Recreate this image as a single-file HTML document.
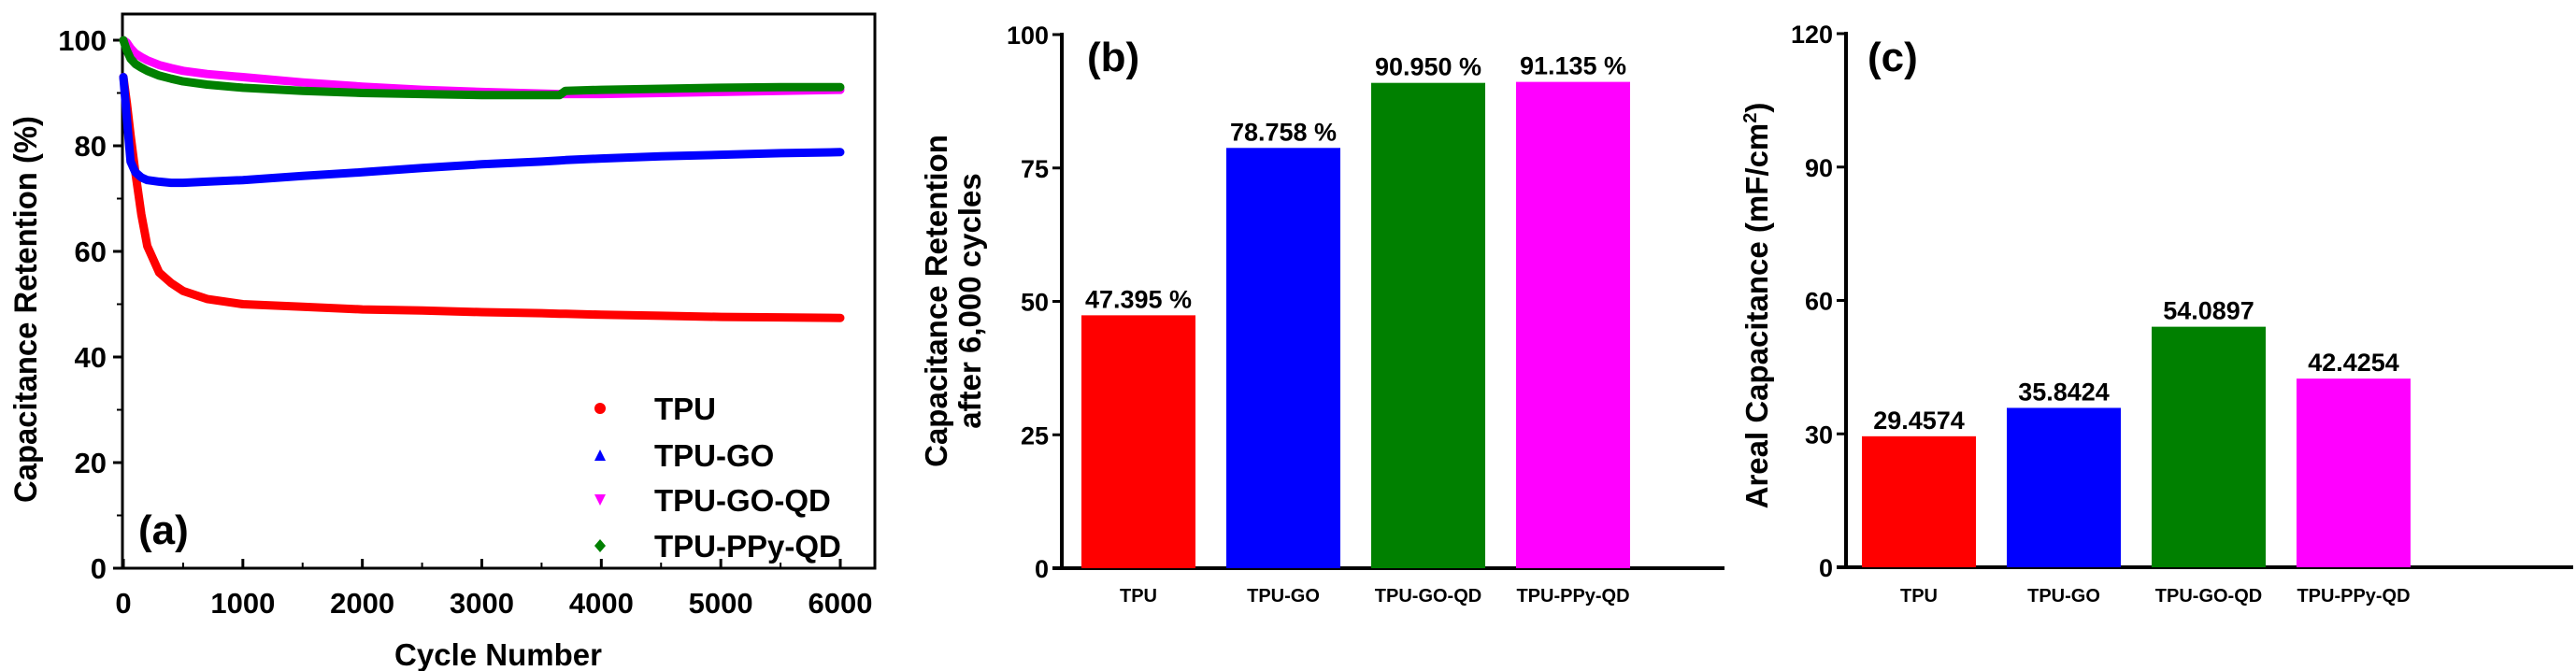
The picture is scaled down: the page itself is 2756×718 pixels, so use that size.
<!DOCTYPE html>
<html><head><meta charset="utf-8">
<style>
html,body{margin:0;padding:0;background:#fff;}
svg{display:block;font-family:"Liberation Sans",Arial,sans-serif;font-weight:bold;}
</style></head>
<body>
<svg id="fig" width="2756" height="718" viewBox="0 0 2756 718" xmlns="http://www.w3.org/2000/svg">
<rect width="2756" height="718" fill="#fff"/>
<g id="pa"></g>
<g id="pb"></g>
<g id="pc"></g>
</svg>
<script>
// ---------- Panel (a) data ----------
const aCycles = [0, 30, 60, 100, 150, 200, 300, 400, 500, 700, 1000, 1500, 2000, 2500, 3000, 3500, 3650, 3700, 4000, 4500, 5000, 5500, 6000];
const aTPU    = [93, 88, 82, 75, 67, 61, 56, 54, 52.5, 51, 50, 49.5, 49, 48.8, 48.5, 48.3, 48.2, 48.2, 48, 47.8, 47.6, 47.5, 47.4];
const aTPUGO  = [93, 85, 77, 75, 74, 73.5, 73.2, 73, 73, 73.2, 73.5, 74.3, 75, 75.8, 76.5, 77, 77.2, 77.3, 77.6, 78, 78.3, 78.6, 78.8];
const aTPUGOQD= [100, 99.5, 98.5, 97.5, 96.8, 96.2, 95.3, 94.7, 94.2, 93.6, 93, 92, 91.2, 90.6, 90.2, 89.9, 89.8, 89.8, 89.8, 90, 90.2, 90.4, 90.6];
const aTPUPPyQD=[100, 98, 96.5, 95.5, 94.8, 94.2, 93.3, 92.7, 92.2, 91.6, 91, 90.4, 90, 89.8, 89.6, 89.6, 89.6, 90.4, 90.6, 90.8, 91, 91.1, 91.1];
const aSeriesNames = ["TPU", "TPU-GO", "TPU-GO-QD", "TPU-PPy-QD"];
const aXTicks = [0, 1000, 2000, 3000, 4000, 5000, 6000];
const aYTicks = [0, 20, 40, 60, 80, 100];
// ---------- Panel (b) data ----------
const bCategories = ["TPU", "TPU-GO", "TPU-GO-QD", "TPU-PPy-QD"];
const bValues = [47.395, 78.758, 90.950, 91.135];
const bLabels = ["47.395 %", "78.758 %", "90.950 %", "91.135 %"];
const bYTicks = [0, 25, 50, 75, 100];
// ---------- Panel (c) data ----------
const cCategories = ["TPU", "TPU-GO", "TPU-GO-QD", "TPU-PPy-QD"];
const cValues = [29.4574, 35.8424, 54.0897, 42.4254];
const cLabels = ["29.4574", "35.8424", "54.0897", "42.4254"];
const cYTicks = [0, 30, 60, 90, 120];

const NS = "http://www.w3.org/2000/svg";
function mk(parent, tag, attrs, text) {
  const e = document.createElementNS(NS, tag);
  for (const k in attrs) e.setAttribute(k, attrs[k]);
  if (text !== undefined) e.textContent = text;
  parent.appendChild(e);
  return e;
}
const colors = ["#ff0000", "#0000ff", "#ff00ff", "#008000"];
const barColors = ["#ff0000", "#0000ff", "#008000", "#ff00ff"];

// ===== Panel (a) =====
(function () {
  const g = document.getElementById("pa");
  const X0 = 132, X1 = 899, Y0 = 608, Y100 = 43;
  const xs = v => X0 + (v / 6000) * (X1 - X0);
  const ys = v => Y0 - (v / 100) * (Y0 - Y100);
  const frame = mk(g, "rect", {x: 131, y: 15, width: 805, height: 593, fill: "none", stroke: "#000", "stroke-width": 3});
  
  
  // y ticks
  aYTicks.forEach(t => {
    const y = ys(t);
    const tk = mk(g, "line", {x1: 121, x2: 131, y1: y, y2: y, stroke: "#000", "stroke-width": 3});
    
    
    const lb = mk(g, "text", {x: 114, y: y + 11, "text-anchor": "end", "font-size": 31}, t);
    
    
  });
  for (let t = 10; t < 100; t += 20) {
    const m = mk(g, "line", {x1: 125, x2: 131, y1: ys(t), y2: ys(t), stroke: "#000", "stroke-width": 2});
    
    
  }
  aXTicks.forEach(t => {
    const x = xs(t);
    const tk = mk(g, "line", {x1: x, x2: x, y1: 608, y2: 598, stroke: "#000", "stroke-width": 3});
    
    
    const lb = mk(g, "text", {x: x, y: 656, "text-anchor": "middle", "font-size": 31}, t);
    
    
  });
  for (let t = 500; t < 6500; t += 1000) {
    const m = mk(g, "line", {x1: xs(t), x2: xs(t), y1: 608, y2: 602, stroke: "#000", "stroke-width": 2});
    
    
  }
  const xt = mk(g, "text", {x: 533, y: 712, "text-anchor": "middle", "font-size": 33}, "Cycle Number");
  
  
  const yt = mk(g, "text", {x: 0, y: 0, transform: "translate(39,331) rotate(-90)", "text-anchor": "middle", "font-size": 34, textLength: 414, lengthAdjust: "spacingAndGlyphs"}, "Capacitance Retention (%)");
  
  
  // series
  const seriesVals = [aTPU, aTPUGO, aTPUGOQD, aTPUPPyQD];
  const order = [0, 1, 2, 3];
  order.forEach(i => {
    const pts = aCycles.map((c, k) => xs(c).toFixed(1) + "," + ys(seriesVals[i][k]).toFixed(1)).join(" ");
    const pl = mk(g, "polyline", {points: pts, fill: "none", stroke: colors[i], "stroke-width": 9, "stroke-linejoin": "round", "stroke-linecap": "round"});
    
    
  });
  // legend
  const legY = [437, 487, 535, 584];
  aSeriesNames.forEach((n, i) => {
    const y = legY[i];
    let m;
    if (i === 0) m = mk(g, "circle", {cx: 642, cy: y, r: 6, fill: colors[i]});
    else if (i === 1) m = mk(g, "polygon", {points: `636,${y+6} 648,${y+6} 642,${y-6}`, fill: colors[i]});
    else if (i === 2) m = mk(g, "polygon", {points: `636,${y-6} 648,${y-6} 642,${y+6}`, fill: colors[i]});
    else m = mk(g, "polygon", {points: `642,${y-7} 648,${y} 642,${y+7} 636,${y}`, fill: colors[i]});
    
    
    const t = mk(g, "text", {x: 700, y: y + 12, "font-size": 33}, n);
    
    
  });
  const pl = mk(g, "text", {x: 148, y: 582, "font-size": 44}, "(a)");
  
  
})();

// ===== Bar panels =====
function barPanel(gid, o) {
  const g = document.getElementById(gid);
  const ys = v => o.Y0 - (v / o.max) * (o.Y0 - o.Ytop);
  const ax = mk(g, "line", {x1: o.AX, x2: o.AX, y1: o.Ytop - 2, y2: o.Y0, stroke: "#000", "stroke-width": 4});
  
  
  const bx = mk(g, "line", {x1: o.AX - 10, x2: o.XEnd, y1: o.Y0, y2: o.Y0, stroke: "#000", "stroke-width": 4});
  
  
  o.ticks.forEach(t => {
    const y = ys(t);
    const tk = mk(g, "line", {x1: o.AX - 10, x2: o.AX, y1: y, y2: y, stroke: "#000", "stroke-width": 3});
    
    
    const lb = mk(g, "text", {x: o.AX - 14, y: y + 10, "text-anchor": "end", "font-size": 27}, t);
    
    
  });
  o.cats.forEach((c, i) => {
    const x = o.firstBar + i * o.step;
    const y = ys(o.vals[i]);
    const r = mk(g, "rect", {x: x, y: y, width: o.bw, height: o.Y0 - y, fill: barColors[i]});
    
    
    const v = mk(g, "text", {x: x + o.bw / 2, y: y - 8, "text-anchor": "middle", "font-size": 27}, o.labels[i]);
    
    
    const cl = mk(g, "text", {x: x + o.bw / 2, y: 644, "text-anchor": "middle", "font-size": 20}, c);
    
    
  });
  o.title.forEach((line, k) => {
    const t = mk(g, "text", {x: 0, y: 0, transform: `translate(${o.titleX[k]},${o.titleY}) rotate(-90)`, "text-anchor": "middle", "font-size": 33}, "");
    t.innerHTML = line;
    
    
  });
  const pl = mk(g, "text", {x: o.plX, y: 76, "font-size": 44}, o.panel);
  
  
}
barPanel("pb", {AX: 1136, Y0: 608, Ytop: 37, max: 100, XEnd: 1845, ticks: bYTicks, cats: bCategories, vals: bValues, labels: bLabels,
  firstBar: 1157, step: 155, bw: 122, title: ["Capacitance Retention", "after 6,000 cycles"], titleX: [1013, 1049], titleY: 322, plX: 1163, panel: "(b)"});
barPanel("pc", {AX: 1975, Y0: 607, Ytop: 36, max: 120, XEnd: 2753, ticks: cYTicks, cats: cCategories, vals: cValues, labels: cLabels,
  firstBar: 1992, step: 155, bw: 122, title: ['Areal Capacitance (mF/cm<tspan dy="-12" font-size="20">2</tspan><tspan dy="12">)</tspan>'], titleX: [1891], titleY: 327, plX: 1998, panel: "(c)"});
</script>
</body></html>
